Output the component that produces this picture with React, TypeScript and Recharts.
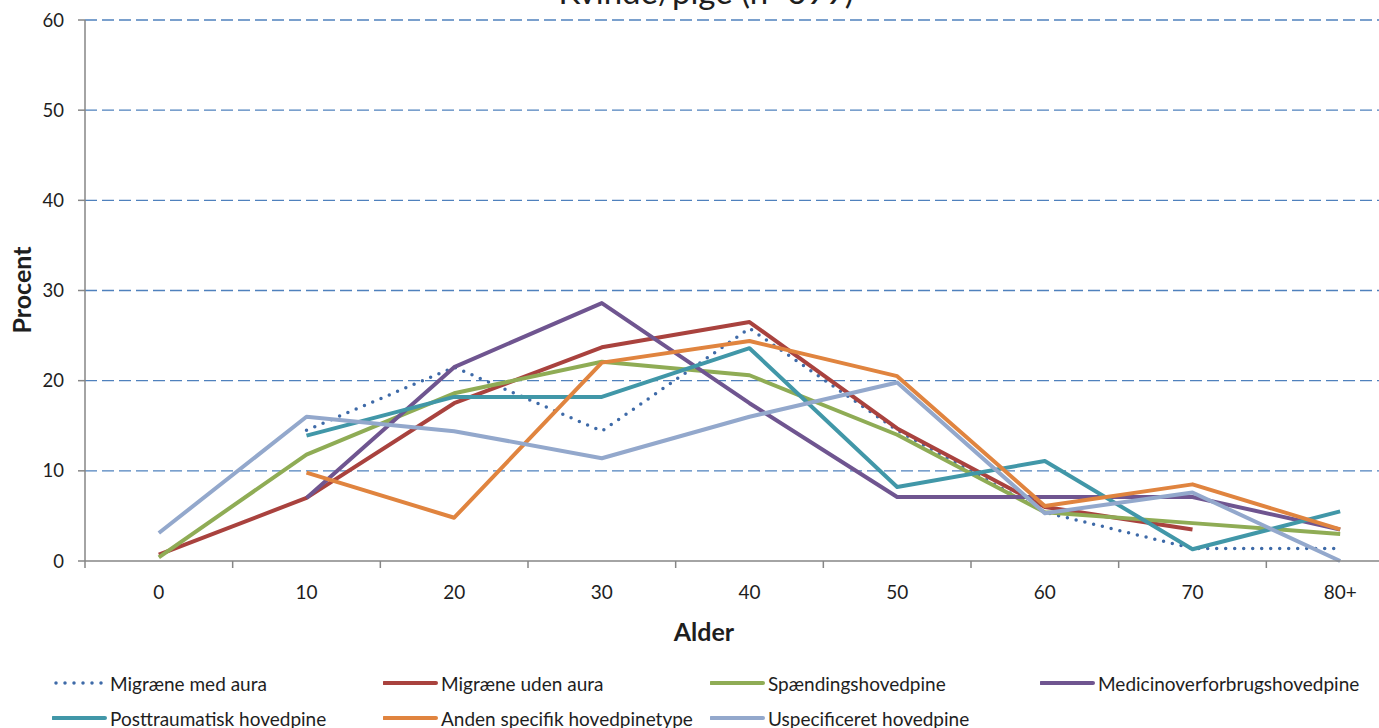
import { LineChart, Line, XAxis, YAxis, CartesianGrid } from 'recharts'

const ages = ['0', '10', '20', '30', '40', '50', '60', '70', '80+']
const yTicks = [0, 10, 20, 30, 40, 50, 60]

const medAura = [null, 14.5, 21.5, 14.4, 25.8, 14.5, 5.4, 1.4, 1.4]
const udenAura = [0.7, 7.0, 17.5, 23.7, 26.5, 14.7, 6.0, 3.5, null]
const spaending = [0.4, 11.8, 18.6, 22.1, 20.6, 14.0, 5.4, 4.2, 3.0]
const medicin = [null, 7.0, 21.5, 28.6, 17.5, 7.1, 7.1, 7.1, 3.5]
const posttraum = [null, 13.9, 18.2, 18.2, 23.6, 8.2, 11.1, 1.3, 5.5]
const anden = [null, 9.8, 4.8, 22.0, 24.4, 20.5, 6.1, 8.5, 3.5]
const uspec = [3.1, 16.0, 14.4, 11.4, 16.0, 19.8, 5.3, 7.6, 0]

const series = [
  { key: 'medAura', name: 'Migræne med aura', color: '#3E6AA8', values: medAura, dotted: true },
  { key: 'udenAura', name: 'Migræne uden aura', color: '#A9423E', values: udenAura },
  { key: 'spaending', name: 'Spændingshovedpine', color: '#8FAC55', values: spaending },
  { key: 'medicin', name: 'Medicinoverforbrugshovedpine', color: '#6F5590', values: medicin },
  { key: 'posttraum', name: 'Posttraumatisk hovedpine', color: '#4197A8', values: posttraum },
  { key: 'anden', name: 'Anden specifik hovedpinetype', color: '#E0843F', values: anden },
  { key: 'uspec', name: 'Uspecificeret hovedpine', color: '#93A8CC', values: uspec },
]

const data = ages.map((age, i) => {
  const row: any = { age }
  series.forEach((s) => (row[s.key] = s.values[i]))
  return row
})

const FONT = 'Lato, "Noto Sans", sans-serif'
const AXIS = '#868686'
const TEXT = '#1e1e1e'

// legend slots (left of line, row centre)
const legendPos = [
  [52, 683], [383, 683], [710, 683], [1040, 683],
  [52, 718], [383, 718], [710, 718],
]

const XTick = (props: any) => {
  const { x, y, payload } = props
  const half = payload?.offset || 73.8
  return (
    <g>
      <line x1={x - half} y1={y} x2={x - half} y2={y + 7} stroke={AXIS} strokeWidth={1.5} />
      <text x={x} y={y + 38} textAnchor="middle" fill={TEXT} fontSize={19} fontFamily={FONT}>
        {payload.value}
      </text>
    </g>
  )
}

export default function App() {
  return (
    <div style={{ position: 'fixed', left: 0, top: 0, width: 1379, height: 728, overflow: 'hidden', background: '#fff' }}>
      <div
        style={{
          position: 'absolute', left: 706, top: -25, transform: 'translateX(-50%)', whiteSpace: 'nowrap',
          fontFamily: FONT, fontSize: 33, lineHeight: '33px', color: TEXT,
        }}
      >
        Kvinde/pige (n=699)
      </div>
      <div style={{ position: 'absolute', left: 0, top: 0 }}>
        <LineChart width={1440} height={728} data={data} margin={{ top: 20, right: 26, left: 0, bottom: 77 }}>
          <CartesianGrid
            vertical={false}
            horizontalValues={[10, 20, 30, 40, 50, 60]}
            stroke="#4F81BD"
            strokeDasharray="12 5"
            strokeWidth={1.3}
          />
          <XAxis
            dataKey="age"
            scale="band"
            height={90}
            tickLine={false}
            tickSize={0}
            tickMargin={0}
            interval={0}
            axisLine={{ stroke: AXIS, strokeWidth: 1.5 }}
            tick={<XTick />}
            label={{
              content: () => (
                <text x={704} y={641} textAnchor="middle" fill={TEXT} fontSize={25} fontWeight="bold" fontFamily={FONT}>
                  Alder
                </text>
              ),
            }}
          />
          <YAxis
            width={85}
            domain={[0, 60]}
            ticks={yTicks}
            interval={0}
            tickSize={7}
            tickMargin={14}
            axisLine={{ stroke: AXIS, strokeWidth: 1.5 }}
            tickLine={{ stroke: AXIS, strokeWidth: 1.5 }}
            tick={{ fill: TEXT, fontSize: 18.5, fontFamily: FONT }}
            label={{
              content: () => (
                <text
                  x={31}
                  y={290}
                  transform="rotate(-90 31 290)"
                  textAnchor="middle"
                  fill={TEXT}
                  fontSize={25}
                  fontWeight="bold"
                  fontFamily={FONT}
                >
                  Procent
                </text>
              ),
            }}
          />
          {series.map((s) => (
            <Line
              key={s.key}
              dataKey={s.key}
              name={s.name}
              stroke={s.color}
              strokeWidth={s.dotted ? 3.5 : 4}
              strokeDasharray={s.dotted ? '0 9' : undefined}
              strokeLinecap={s.dotted ? 'round' : 'butt'}
              strokeLinejoin="round"
              dot={false}
              activeDot={false}
              isAnimationActive={false}
            />
          ))}
        </LineChart>
      </div>
      {series.map((s, i) => (
        <div
          key={s.key}
          style={{
            position: 'absolute', left: legendPos[i][0], top: legendPos[i][1] - 12, height: 24,
            display: 'flex', alignItems: 'center', whiteSpace: 'nowrap',
            fontFamily: FONT, fontSize: 19, color: TEXT,
          }}
        >
          <svg width={58} height={10}>
            <line
              x1={s.dotted ? 4 : 1}
              y1={5}
              x2={53}
              y2={5}
              stroke={s.color}
              strokeWidth={s.dotted ? 3.5 : 4}
              strokeDasharray={s.dotted ? '0 9' : undefined}
              strokeLinecap="round"
            />
          </svg>
          {s.name}
        </div>
      ))}
    </div>
  )
}
